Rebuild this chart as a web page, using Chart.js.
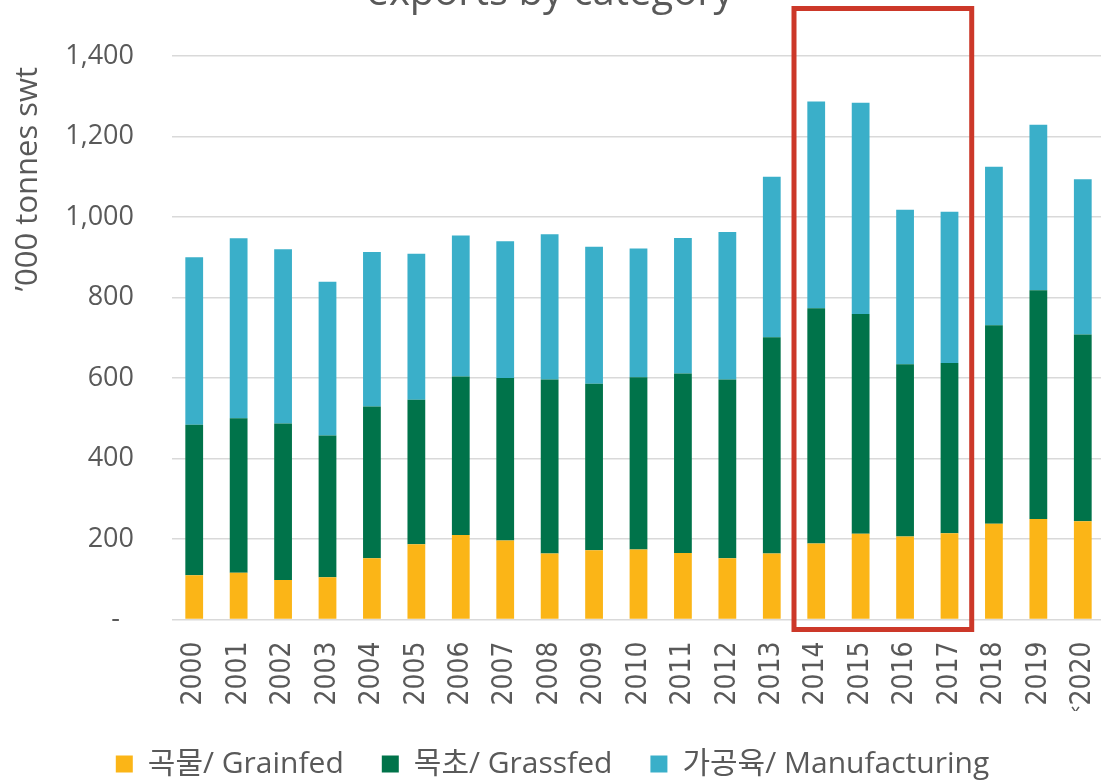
<!DOCTYPE html>
<html>
<head>
<meta charset="utf-8">
<script src="https://cdn.jsdelivr.net/npm/chart.js@4/dist/chart.umd.min.js"></script>
<style>
  html, body { margin: 0; padding: 0; background: #fff; overflow: hidden; }
  #wrap { position: absolute; left: 0; top: 0; width: 1106px; height: 783px; }
</style>
</head>
<body>
<div id="wrap"><canvas id="myChart"></canvas></div>
<script>
// '000 tonnes swt
var years = ['2000', '2001', '2002', '2003', '2004', '2005', '2006', '2007', '2008', '2009', '2010',
	'2011', '2012', '2013', '2014', '2015', '2016', '2017', '2018', '2019', '*2020'];
var grainfed = [110, 116, 98, 105, 152, 187, 210, 196, 164, 172, 174, 165, 152, 164, 189, 213, 206, 214, 238, 250, 244];
var grassfed = [374, 384, 389, 352, 377, 359, 394, 404, 432, 414, 428, 446, 444, 537, 584, 546, 428, 423, 493, 568, 464];
var manufacturing = [416, 447, 433, 382, 384, 363, 350, 340, 361, 340, 320, 337, 367, 399, 514, 525, 384, 376, 394, 411, 386];
var seriesNames = ['곡물/ Grainfed', '목초/ Grassfed', '가공육/ Manufacturing'];
var yTicks = [0, 200, 400, 600, 800, 1000, 1200, 1400];
var chartTitle = 'exports by category';
var yTitle = '\u2019000 tonnes swt';
var boxFrom = '2014', boxTo = '2017';

var FONT = "'Open Sans', 'Noto Sans CJK KR', sans-serif";
var GREY = '#595959';

// title is cut off at the top of the picture, and the y title sits high, so draw them by hand
var extraText = {
	id: 'extraText',
	afterDraw: function(chart) {
		var ctx = chart.ctx;
		ctx.save();
		ctx.fillStyle = GREY;
		ctx.font = "40px " + FONT;
		ctx.textAlign = 'center';
		ctx.textBaseline = 'alphabetic';
		ctx.fillText(chartTitle, 550, 5);

		ctx.font = "31px " + FONT;
		ctx.translate(28, 179);
		ctx.rotate(-Math.PI / 2);
		ctx.textBaseline = 'middle';
		ctx.fillText(yTitle, 0, 0);
		ctx.restore();
	}
};

// red box round the highlighted years
var redBox = {
	id: 'redBox',
	afterDraw: function(chart) {
		var x = chart.scales.x;
		var half = (x.getPixelForValue(1) - x.getPixelForValue(0)) / 2;
		var left = x.getPixelForValue(years.indexOf(boxFrom)) - half;
		var right = x.getPixelForValue(years.indexOf(boxTo)) + half;
		var ctx = chart.ctx;
		ctx.save();
		ctx.strokeStyle = '#CC3829';
		ctx.lineWidth = 5;
		ctx.strokeRect(left, 8.5, right - left, chart.chartArea.bottom + 10 - 8.5);
		ctx.restore();
	}
};

var ctx = document.getElementById('myChart');
var myChart = new Chart(ctx, {
	type: 'bar',
	data: {
		labels: years,
		datasets: [{
			label: seriesNames[0],
			data: grainfed,
			backgroundColor: '#FBB517'
		}, {
			label: seriesNames[1],
			data: grassfed,
			backgroundColor: '#00734A'
		}, {
			label: seriesNames[2],
			data: manufacturing,
			backgroundColor: '#3AAFC9'
		}]
	},
	options: {
		responsive: true,
		maintainAspectRatio: false,
		animation: false,
		layout: { padding: { top: 56, right: 1, left: 0, bottom: 0 } },
		datasets: {
			bar: { barPercentage: 0.4, categoryPercentage: 1 }
		},
		plugins: {
			title: { display: false },
			tooltip: { enabled: false },
			legend: {
				position: 'bottom',
				maxHeight: 72,
				labels: {
					font: { family: FONT, size: 30 },
					color: GREY,
					boxWidth: 17,
					boxHeight: 17,
					padding: 38
				}
			}
		},
		scales: {
			x: {
				stacked: true,
				grid: { display: false, drawTicks: false },
				border: { display: false },
				ticks: {
					autoSkip: false,
					minRotation: 90,
					maxRotation: 90,
					padding: 22,
					color: GREY,
					font: { family: "'DejaVu Sans Condensed', " + FONT, size: 28 }
				},
				afterFit: function(scale) {
					scale.height = 91.5;
					scale.paddingLeft = 0;
					scale.paddingRight = 0;
				}
			},
			y: {
				stacked: true,
				min: 0,
				max: 1400,
				grid: { color: '#D9D9D9', lineWidth: 1.5, drawTicks: false },
				border: { display: false },
				afterBuildTicks: function(scale) {
					scale.ticks = yTicks.map(function(v) { return { value: v }; });
				},
				ticks: {
					padding: 38,
					color: GREY,
					font: { family: FONT, size: 27 },
					callback: function(v) {
						return v === 0 ? '-  ' : v.toLocaleString('en-US');
					}
				},
				afterFit: function(scale) { scale.width = 172; }
			}
		}
	},
	plugins: [extraText, redBox]
});
</script>
</body>
</html>
